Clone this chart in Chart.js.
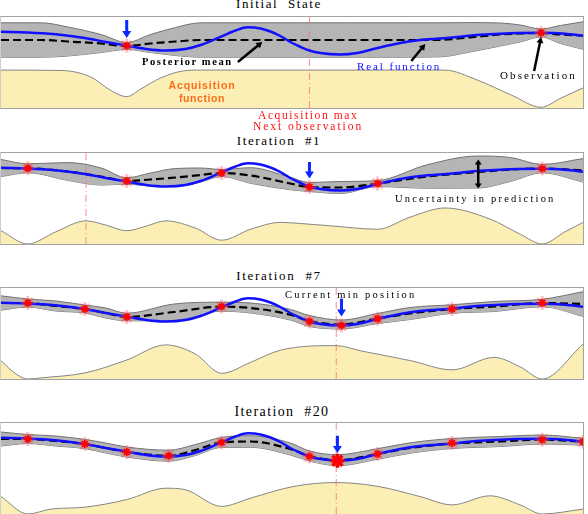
<!DOCTYPE html>
<html>
<head>
<meta charset="utf-8">
<script src="https://cdn.jsdelivr.net/npm/chart.js@4.4.1/dist/chart.umd.min.js"></script>
<style>
  body { margin: 0; width: 588px; height: 514px; position: relative; overflow: hidden; background: #fff;
         font-family: "Liberation Serif", "DejaVu Serif", serif; color: #000; }
  .panel { position: absolute; left: 0; width: 582px; height: 91px; border: 1px solid #a3a3a3; border-left-color: #cfcfcf; }
  .panel canvas { display: block; }
  .lbl { position: absolute; white-space: nowrap; line-height: 1; }
  .ttl { text-align: center; width: 240px; left: 159px; font-size: 13px; letter-spacing: 1.6px; color: #000; }
</style>
</head>
<body>

<div class="panel" style="top:16px"><canvas id="p1" width="582" height="91"></canvas></div>
<div class="panel" style="top:152px"><canvas id="p2" width="582" height="91"></canvas></div>
<div class="panel" style="top:287px"><canvas id="p3" width="582" height="91"></canvas></div>
<div class="panel" style="top:422px"><canvas id="p4" width="582" height="91"></canvas></div>

<div class="lbl ttl" style="top:-2.6px">Initial &nbsp;State</div>
<div class="lbl ttl" style="top:134px">Iteration &nbsp;#1</div>
<div class="lbl ttl" style="top:269px;letter-spacing:1.7px">Iteration &nbsp;#7</div>
<div class="lbl ttl" style="top:404.5px;font-size:14px;letter-spacing:1.4px;left:162px">Iteration &nbsp;#20</div>

<div class="lbl" style="left:142px;top:57.2px;font-size:10.5px;font-weight:bold;letter-spacing:1.6px">Posterior mean</div>
<div class="lbl" style="left:357px;top:60.8px;font-size:11px;letter-spacing:1.9px;color:#0a0aff">Real function</div>
<div class="lbl" style="left:500px;top:69.8px;font-size:11px;letter-spacing:2.1px">Observation</div>
<div class="lbl" style="left:152px;width:100px;text-align:center;top:80.4px;font-size:10.5px;font-weight:bold;letter-spacing:0.9px;color:#ff6a1a;font-family:'Liberation Sans',Arial,sans-serif">Acquisition</div>
<div class="lbl" style="left:152px;width:100px;text-align:center;top:92.8px;font-size:10.5px;font-weight:bold;letter-spacing:0.6px;color:#ff6a1a;font-family:'Liberation Sans',Arial,sans-serif">function</div>
<div class="lbl" style="left:258px;top:110.4px;font-size:11.5px;letter-spacing:1.6px;color:#ff1010">Acquisition max</div>
<div class="lbl" style="left:253px;top:121.4px;font-size:11.5px;letter-spacing:1.95px;color:#ff1010">Next observation</div>
<div class="lbl" style="left:395px;top:194.2px;font-size:10.5px;letter-spacing:2.2px">Uncertainty in prediction</div>
<div class="lbl" style="left:285px;top:290.2px;font-size:10.5px;letter-spacing:2.2px">Current min position</div>

<script>
// ─── REAL FUNCTION (the same hidden curve in every panel) ─────
const realX = [0, 4.6, 9.4, 14.4, 18.0, 21.6, 24.9, 28.3, 31.7, 34.3, 37.9, 40.3, 42.4, 44.6, 46.3, 48.0,
               49.7, 51.5, 53.0, 54.9, 58.3, 61.2, 64.7, 68.6, 72.0, 77.5, 82.3, 87.5, 93.0, 96.9, 100];
const realY = [1.02, 0.96, 0.77, 0.40, 0.00, -0.37, -0.70, -0.85, -0.70, -0.30, 0.57, 1.15, 1.47, 1.35, 1.05, 0.60,
               0.00, -0.50, -0.85, -1.10, -1.25, -1.10, -0.60, -0.10, 0.20, 0.45, 0.72, 0.88, 0.92, 0.82, 0.63];

// ─── PANEL 1 : Initial State ──────────────────────────────────
const p1X    = [0, 6.9, 11.5, 17.2, 21.6, 25.7, 30.0, 34.3, 42.9, 51.5, 60.0, 68.6, 75.5, 80.6, 85.8, 89.2, 92.8, 96.1, 100];
const p1Mean = [0.2, 0.2, 0.05, -0.15, -0.4, -0.15, 0.05, 0.2, 0.2, 0.2, 0.2, 0.2, 0.22, 0.47, 0.75, 0.85, 0.9, 0.75, 0.65];
const p1Sd   = [1.72, 1.72, 1.45, 0.9, 0.35, 0.9, 1.4, 1.72, 1.72, 1.72, 1.72, 1.72, 1.7, 1.47, 1.15, 0.85, 0.4, 0.9, 1.37];
const p1AcqX = [0, 10.3, 15.4, 18.9, 21.6, 24.0, 27.4, 31.4, 34.3, 76.2, 81.8, 87.7, 92.8, 96.2, 100];
const p1Acq  = [1.0, 0.99, 0.82, 0.46, 0.30, 0.5, 0.79, 0.98, 1.0, 1.0, 0.74, 0.34, 0.02, 0.26, 0.53];
const p1ObsX = [21.6, 92.8];
const p1ObsY = [-0.37, 0.92];

// ─── PANEL 2 : Iteration #1 ───────────────────────────────────
const p2X    = [0, 4.6, 11.5, 17.2, 21.6, 25.7, 30.0, 34.3, 37.9, 42.9, 49.7, 53.0, 58.3, 64.7, 73.2, 82.0, 87.5, 93.0, 100];
const p2Mean = [1.0, 0.97, 0.65, 0.15, -0.3, -0.15, 0.05, 0.3, 0.5, 0.25, -0.55, -0.9, -0.95, -0.56, 0.15, 0.6, 0.85, 0.94, 0.77];
const p2Sd   = [0.85, 0.45, 0.89, 0.85, 0.32, 0.65, 0.9, 0.7, 0.35, 0.78, 0.62, 0.45, 0.6, 0.3, 1.17, 1.6, 1.2, 0.42, 1.17];
const p2AcqX = [0, 4.6, 9.4, 14.6, 18.0, 21.6, 24.9, 28.3, 33.4, 37.9, 42.9, 48.0, 51.5, 56.6, 64.7, 70.3, 76.3, 84.0, 89.2, 93.0, 96.9, 100];
const p2Acq  = [0.35, 0, 0.32, 0.61, 0.5, 0.35, 0.47, 0.61, 0.42, 0.1, 0.39, 0.57, 0.54, 0.48, 0.39, 0.71, 0.95, 0.66, 0.26, 0, 0.32, 0.57];
const p2ObsX = [4.6, 21.6, 37.9, 53.0, 64.7, 93.0];
const p2ObsY = [0.97, -0.3, 0.5, -0.9, -0.56, 0.94];

// ─── PANEL 3 : Iteration #7 ───────────────────────────────────
const p3X    = [0, 4.6, 9.4, 14.4, 18.0, 21.6, 29.7, 37.9, 42.9, 49.7, 53.0, 58.5, 64.7, 70.3, 77.5, 84.7, 93.0, 100];
const p3Mean = [1.0, 1.0, 0.7, 0.4, 0.0, -0.4, 0.1, 0.63, 0.5, -0.17, -0.8, -1.15, -0.55, -0.05, 0.4, 0.65, 1.0, 0.9];
const p3Sd   = [0.72, 0.4, 0.5, 0.4, 0.5, 0.38, 0.8, 0.45, 0.5, 0.53, 0.55, 0.45, 0.5, 0.6, 0.42, 0.5, 0.37, 1.23];
const p3AcqX = [0, 2.6, 4.6, 6.9, 14.4, 21.6, 28.3, 33.4, 37.9, 42.9, 48.0, 57.6, 61.9, 70.5, 77.5, 84.7, 89.2, 93.0, 100];
const p3Acq  = [0.48, 0.13, 0, 0.03, 0.16, 0.5, 0.9, 0.66, 0.15, 0.44, 0.76, 0.88, 0.74, 0.48, 0.24, 0.57, 0.32, 0, 0.92];
const p3ObsX = [4.6, 14.4, 21.6, 37.9, 53.0, 58.5, 64.7, 77.5, 93.0];
const p3ObsY = [1.0, 0.4, -0.4, 0.66, -0.84, -1.24, -0.57, 0.4, 1.0];

// ─── PANEL 4 : Iteration #20 ──────────────────────────────────
const p4X    = [0, 4.6, 9.4, 14.4, 18.0, 21.6, 28.8, 33.4, 37.9, 42.9, 49.7, 53.0, 57.8, 64.7, 70.3, 77.5, 85.8, 93.0, 100];
const p4Mean = [0.9, 0.9, 0.7, 0.4, 0.0, -0.4, -0.77, -0.2, 0.56, 0.65, -0.1, -0.8, -1.22, -0.6, 0.0, 0.45, 0.65, 0.85, 0.63];
const p4Sd   = [0.7, 0.45, 0.5, 0.46, 0.5, 0.5, 0.55, 0.55, 0.5, 0.58, 0.6, 0.5, 0.55, 0.53, 0.52, 0.5, 0.5, 0.45, 0.35];
const p4AcqX = [0, 4.6, 8.6, 14.4, 21.6, 28.3, 31.7, 37.9, 42.9, 50.4, 57.6, 64.7, 72.0, 77.5, 84.0, 89.2, 93.0, 100];
const p4Acq  = [0.46, 0, 0.13, 0.18, 0.38, 0.68, 0.64, 0.2, 0.42, 0.73, 0.83, 0.73, 0.46, 0.24, 0.48, 0.24, 0, 0.13];
const p4ObsX = [4.6, 14.4, 21.6, 28.8, 37.9, 53.0, 57.8, 64.7, 77.5, 93.0, 100];
const p4ObsY = [0.9, 0.4, -0.4, -0.77, 0.56, -0.84, -1.27, -0.6, 0.5, 0.83, 0.63];

// ─── ANNOTATION MARKS ─────────────────────────────────────────
const acqMaxX       = [53.0, 14.6, 57.6, 57.6];      // dash-dot line, one per panel
const nextArrowX    = [21.6, 53.0, 58.5, 57.8];      // blue arrows
const nextArrowTail = [2.2, 1.6, 1.43, 1.23];
const nextArrowTip  = [0.4, -0.06, -0.34, -0.5];
const pointerTailX  = [40.7, 70.5, 91.6];            // black arrows, first panel
const pointerTailY  = [-2.0, -1.9, -2.9];
const pointerTipX   = [44.9, 72.9, 92.8];
const pointerTipY   = [0.0, -0.2, 0.5];
const spreadX = 82.0, spreadTop = 1.84, spreadBottom = -1.06;   // uncertainty bar, panel 2

const GP_MIN = -6.6, GP_MAX = 2.5;   // objective range of a panel
const ACQ_MAX = 2.4;                 // acquisition range (0 at panel bottom)

const pts = (xs, ys) => xs.map((x, i) => ({ x, y: ys[i] }));

// ─── ARROWS ───────────────────────────────────────────────────
function drawHead(ctx, x, y, ang, len, half) {
    ctx.beginPath();
    ctx.moveTo(x, y);
    ctx.lineTo(x - len * Math.cos(ang) + half * Math.sin(ang), y - len * Math.sin(ang) - half * Math.cos(ang));
    ctx.lineTo(x - len * Math.cos(ang) - half * Math.sin(ang), y - len * Math.sin(ang) + half * Math.cos(ang));
    ctx.closePath();
    ctx.fill();
}

const arrowPlugin = {
    id: 'arrows',
    afterDatasetsDraw(chart, args, opts) {
        const { ctx, scales: { x, y } } = chart;
        (opts.items || []).forEach(a => {
            const x0 = x.getPixelForValue(a.x0), y0 = y.getPixelForValue(a.y0);
            const x1 = x.getPixelForValue(a.x1), y1 = y.getPixelForValue(a.y1);
            const ang = Math.atan2(y1 - y0, x1 - x0);
            ctx.save();
            ctx.strokeStyle = ctx.fillStyle = a.color;
            ctx.lineWidth = a.width;
            ctx.beginPath();
            const s = a.both ? a.len * 0.8 : 0;
            ctx.moveTo(x0 + s * Math.cos(ang), y0 + s * Math.sin(ang));
            ctx.lineTo(x1 - a.len * 0.8 * Math.cos(ang), y1 - a.len * 0.8 * Math.sin(ang));
            ctx.stroke();
            drawHead(ctx, x1, y1, ang, a.len, a.half);
            if (a.both) drawHead(ctx, x0, y0, ang + Math.PI, a.len, a.half);
            ctx.restore();
        });
    }
};

// ─── PANEL BUILDER ────────────────────────────────────────────
function buildPanel(id, p) {
    const upper = p.mean.map((m, i) => m + p.sd[i]);
    const lower = p.mean.map((m, i) => m - p.sd[i]);
    const markR = p.obsX.map(x => (p.bigX === x ? 7 : 4));
    const markW = p.obsX.map(x => (p.bigX === x ? 3.5 : 1.8));
    return new Chart(document.getElementById(id), {
        type: 'line',
        data: {
            datasets: [
                { data: pts(p.obsX, p.obsY), showLine: false, pointStyle: 'star',
                  pointRadius: markR, pointBorderColor: '#ff0000', pointBorderWidth: markW },
                { data: pts(p.obsX, p.obsY), showLine: false, pointStyle: 'star',
                  pointRadius: 7, pointBorderColor: 'rgba(255,80,80,0.35)', pointBorderWidth: 3 },
                { data: pts(realX, realY), borderColor: '#1010ff', borderWidth: 2.5, pointRadius: 0,
                  cubicInterpolationMode: 'monotone' },
                { data: pts(p.x, p.mean), borderColor: '#000', borderWidth: 2.2, borderDash: [8, 4],
                  pointRadius: 0, cubicInterpolationMode: 'monotone' },
                { data: [{ x: p.nextX, y: 0 }, { x: p.nextX, y: ACQ_MAX }], yAxisID: 'y2',
                  borderColor: 'rgba(255,110,110,0.8)', borderWidth: 1, borderDash: [7, 3, 1, 3], pointRadius: 0 },
                { data: pts(p.x, upper), borderColor: '#727272', borderWidth: 1, pointRadius: 0,
                  backgroundColor: '#b5b5b5', fill: '+1', cubicInterpolationMode: 'monotone' },
                { data: pts(p.x, lower), borderColor: '#727272', borderWidth: 1, pointRadius: 0,
                  cubicInterpolationMode: 'monotone' },
                { data: pts(p.acqX, p.acq), yAxisID: 'y2', borderColor: '#858585', borderWidth: 1, pointRadius: 0,
                  backgroundColor: '#fcefb6', fill: 'origin', cubicInterpolationMode: 'monotone' }
            ]
        },
        options: {
            responsive: false,
            devicePixelRatio: 1,
            animation: false,
            events: [],
            layout: { padding: 0, autoPadding: false },
            scales: {
                x:  { type: 'linear', min: 0, max: 100, display: false },
                y:  { min: GP_MIN, max: GP_MAX, display: false },
                y2: { min: 0, max: ACQ_MAX, display: false }
            },
            plugins: {
                legend: { display: false },
                tooltip: { enabled: false },
                arrows: { items: p.arrows }
            }
        },
        plugins: [arrowPlugin]
    });
}

function blueArrow(i) {
    return { x0: nextArrowX[i], y0: nextArrowTail[i], x1: nextArrowX[i], y1: nextArrowTip[i],
             color: '#0a28ff', width: 3, len: 7, half: 4.5 };
}

const pointers = pointerTailX.map((_, i) => ({
    x0: pointerTailX[i], y0: pointerTailY[i], x1: pointerTipX[i], y1: pointerTipY[i],
    color: '#000', width: 2.5, len: 6, half: 3.5
}));

// ─── INIT ─────────────────────────────────────────────────────
buildPanel('p1', { x: p1X, mean: p1Mean, sd: p1Sd, acqX: p1AcqX, acq: p1Acq, obsX: p1ObsX, obsY: p1ObsY,
                   nextX: acqMaxX[0], arrows: [blueArrow(0), ...pointers] });
buildPanel('p2', { x: p2X, mean: p2Mean, sd: p2Sd, acqX: p2AcqX, acq: p2Acq, obsX: p2ObsX, obsY: p2ObsY,
                   nextX: acqMaxX[1], arrows: [blueArrow(1),
                   { x0: spreadX, y0: spreadTop, x1: spreadX, y1: spreadBottom, color: '#000', width: 2.5, len: 5, half: 3.5, both: true }] });
buildPanel('p3', { x: p3X, mean: p3Mean, sd: p3Sd, acqX: p3AcqX, acq: p3Acq, obsX: p3ObsX, obsY: p3ObsY,
                   nextX: acqMaxX[2], arrows: [blueArrow(2)] });
buildPanel('p4', { x: p4X, mean: p4Mean, sd: p4Sd, acqX: p4AcqX, acq: p4Acq, obsX: p4ObsX, obsY: p4ObsY,
                   nextX: acqMaxX[3], bigX: 57.8, arrows: [blueArrow(3)] });
</script>
</body>
</html>
